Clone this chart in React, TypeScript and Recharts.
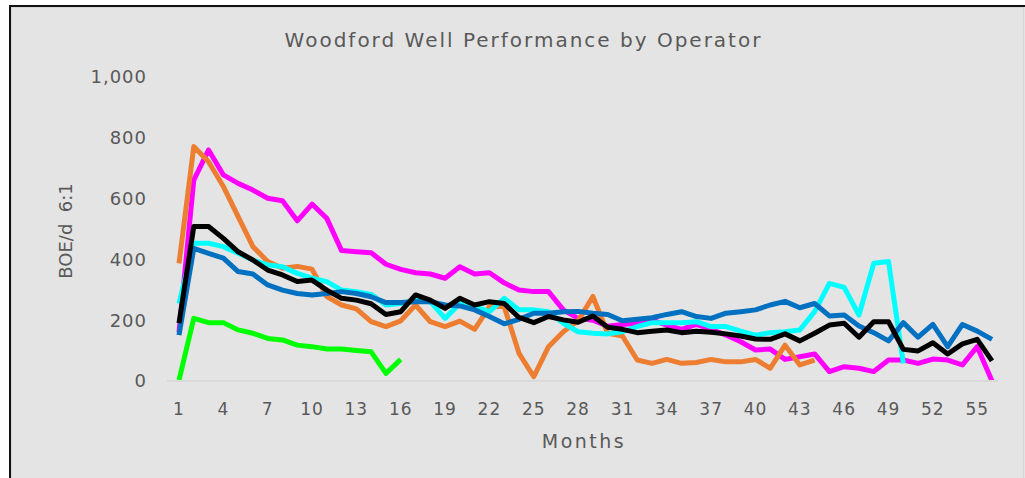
import { LineChart, Line, XAxis, YAxis } from "recharts";

const months = [
  1, 2, 3, 4, 5, 6, 7, 8, 9, 10, 11, 12, 13, 14, 15, 16, 17, 18, 19, 20, 21, 22, 23, 24, 25, 26, 27, 28,
  29, 30, 31, 32, 33, 34, 35, 36, 37, 38, 39, 40, 41, 42, 43, 44, 45, 46, 47, 48, 49, 50, 51, 52, 53, 54, 55, 56,
];
const monthTicks = [1, 4, 7, 10, 13, 16, 19, 22, 25, 28, 31, 34, 37, 40, 43, 46, 49, 52, 55];
const boeTicks = [0, 200, 400, 600, 800, 1000];

// one array per operator, BOE/d by month
const magenta = [
  160, 661, 760, 678, 650, 628, 601, 593, 527, 582, 535, 429, 425, 422, 384, 367, 356, 352, 338, 376, 352, 356,
  323, 299, 294, 294, 234, 206, 200, 180, 186, 190, 200, 184, 170, 186, 170, 151, 129, 102, 105, 71, 80, 89, 31,
  47, 42, 31, 69, 69, 58, 72, 69, 53, 113, 0,
];
const orange = [
  387, 771, 721, 640, 541, 442, 393, 371, 377, 368, 278, 250, 237, 195, 179, 198, 250, 195, 179, 197, 170, 245,
  245, 91, 14, 113, 162, 198, 278, 157, 148, 69, 58, 71, 58, 61, 71, 63, 63, 71, 42, 118, 53, 69,
];
const cyan = [
  255, 453, 453, 442, 420, 398, 382, 376, 354, 338, 327, 299, 294, 285, 250, 255, 266, 261, 206, 255, 245, 228,
  272, 234, 234, 228, 190, 162, 157, 155, 162, 179, 192, 192, 192, 195, 179, 179, 164, 151, 159, 162, 168, 228,
  321, 308, 217, 387, 393, 58,
];
const blue = [
  151, 436, 420, 404, 360, 352, 316, 299, 288, 283, 288, 294, 288, 277, 258, 258, 261, 261, 250, 247, 234, 212,
  188, 203, 223, 223, 228, 229, 223, 219, 198, 203, 208, 219, 228, 212, 206, 223, 228, 234, 250, 262, 241, 255,
  214, 217, 181, 159, 132, 192, 144, 186, 113, 186, 164, 137,
];
const black = [
  190, 508, 508, 469, 425, 398, 365, 349, 327, 332, 299, 272, 266, 254, 219, 228, 283, 266, 239, 272, 250, 261,
  255, 209, 192, 212, 201, 193, 214, 177, 170, 159, 164, 168, 159, 164, 160, 155, 148, 138, 137, 155, 132, 157,
  184, 190, 144, 195, 195, 104, 99, 126, 89, 122, 137, 66,
];
const green = [3, 206, 192, 192, 168, 157, 140, 135, 118, 113, 105, 105, 100, 96, 25, 71];

const rows = months.map((m, i) => ({
  month: m,
  magenta: magenta[i] ?? null,
  orange: orange[i] ?? null,
  cyan: cyan[i] ?? null,
  blue: blue[i] ?? null,
  green: green[i] ?? null,
  black: black[i] ?? null,
}));

const series = [
  { key: "magenta", color: "#ff00ff" },
  { key: "orange", color: "#ed7d31" },
  { key: "cyan", color: "#00ffff" },
  { key: "blue", color: "#0070c0" },
  { key: "green", color: "#00ff00" },
  { key: "black", color: "#000000" },
];

const font = "'DejaVu Sans', sans-serif";
const textGray = "#595959";

export default function App() {
  return (
    <div style={{ position: "absolute", left: 0, top: 0, width: 1025, height: 478, background: "#fff", overflow: "hidden" }}>
      <div
        style={{
          position: "absolute",
          left: 9,
          top: 5,
          width: 1030,
          height: 480,
          borderTop: "2px solid #111",
          borderLeft: "2px solid #111",
          background: "#e4e4e4",
        }}
      />
      <div
        style={{
          position: "absolute",
          left: 11,
          top: 7,
          width: 1011,
          height: 480,
          border: "1px solid #d6d6d6",
        }}
      />
      <div
        style={{
          position: "absolute",
          left: 0,
          width: 1025,
          top: 30,
          textAlign: "center",
          fontFamily: font,
          fontSize: 20,
          lineHeight: "20px",
          letterSpacing: 2,
          color: textGray,
          paddingLeft: 22,
          boxSizing: "border-box",
        }}
      >
        Woodford Well Performance by Operator
      </div>
      <div
        style={{
          position: "absolute",
          left: 65,
          top: 231,
          transform: "translate(-50%, -50%) rotate(-90deg)",
          fontFamily: font,
          fontSize: 18,
          color: textGray,
          whiteSpace: "pre",
        }}
      >
        BOE/d  6:1
      </div>
      <div style={{ position: "absolute", left: 0, top: 0 }}>
        <LineChart width={1025} height={478} data={rows} margin={{ top: 77, right: 27, bottom: 67, left: 0 }}>
          <XAxis
            dataKey="month"
            type="number"
            domain={[1, 56]}
            ticks={monthTicks}
            interval={0}
            padding={{ left: 12, right: 6 }}
            height={30}
            axisLine={{ stroke: "#d9d9d9", strokeWidth: 2 }}
            tickLine={false}
            tickSize={0}
            tickMargin={22}
            tick={{ fill: textGray, fontSize: 17, fontFamily: font, letterSpacing: 1 }}
          />
          <YAxis
            type="number"
            domain={[0, 1000]}
            ticks={boeTicks}
            width={167}
            axisLine={false}
            tickLine={false}
            tickSize={0}
            tickMargin={20}
            tickFormatter={(v: number) => v.toLocaleString("en-US")}
            tick={{ fill: textGray, fontSize: 18, fontFamily: font, letterSpacing: 1 }}
          />
          {series.map((s) => (
            <Line
              key={s.key}
              dataKey={s.key}
              type="linear"
              stroke={s.color}
              strokeWidth={5}
              strokeLinejoin="round"
              dot={false}
              activeDot={false}
              isAnimationActive={false}
            />
          ))}
        </LineChart>
      </div>
      <div
        style={{
          position: "absolute",
          left: 484,
          width: 200,
          top: 432,
          textAlign: "center",
          fontFamily: font,
          fontSize: 19,
          lineHeight: "19px",
          letterSpacing: 2.5,
          color: textGray,
        }}
      >
        Months
      </div>
    </div>
  );
}
